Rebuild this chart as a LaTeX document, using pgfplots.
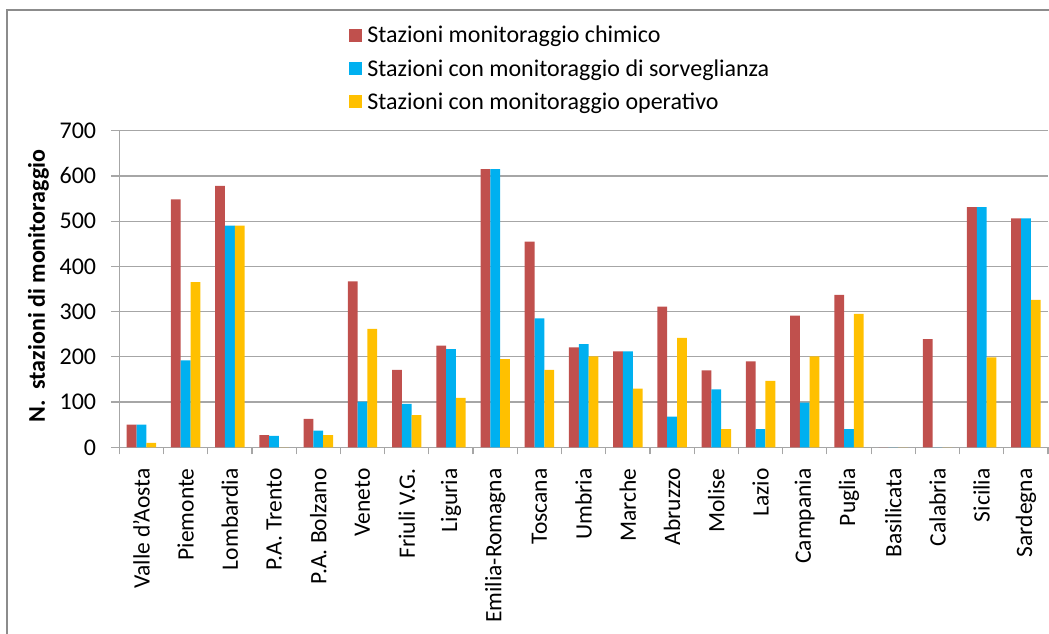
\documentclass[border=0pt]{standalone}
\usepackage{pgfplots}
\pgfplotsset{compat=1.18}
\usepackage{fontspec}
\setmainfont{Carlito}
\definecolor{cred}{HTML}{C0504D}
\definecolor{cblue}{HTML}{00B0F0}
\definecolor{cyel}{HTML}{FFC000}
\definecolor{gridc}{HTML}{A6A6A6}
\definecolor{framec}{HTML}{8C8C8C}
\begin{document}
\begin{tikzpicture}
\useasboundingbox (0,0) rectangle (1049pt,634pt);
\draw[framec, line width=1.3pt] (7pt,0) -- (7pt,624pt) -- (1049pt,624pt);
\begin{axis}[
  at={(119.3pt,186.7pt)}, anchor=south west,
  scale only axis, width=928.7pt, height=316.6pt,
  ybar=0pt, bar width=9.8pt,
  xmin=-0.5, xmax=20.5, ymin=0, ymax=700,
  axis x line*=bottom, axis y line*=left,
  axis line style={gridc, line width=1.2pt, -},
  ytick={0,100,...,700},
  ymajorgrids, grid style={gridc, line width=1.2pt},
  tick align=outside,
  y tick style={gridc, line width=1.2pt},
  major tick length=8pt,
  xtick={0,...,20},
  x tick style={draw=none},
  xticklabels={Valle d'Aosta,Piemonte,Lombardia,P.A. Trento,P.A. Bolzano,Veneto,Friuli V.G.,Liguria,Emilia-Romagna,Toscana,Umbria,Marche,Abruzzo,Molise,Lazio,Campania,Puglia,Basilicata,Calabria,Sicilia,Sardegna},
  extra x ticks={-0.5,0.5,...,20.5},
  extra x tick labels={},
  extra x tick style={x tick style={draw=gridc, line width=1.2pt}, major tick length=7pt},
  xticklabel style={rotate=90, anchor=east, inner sep=0pt, font=\fontsize{23.5}{28}\selectfont},
  yticklabel style={anchor=east, inner sep=0pt, font=\fontsize{24}{29}\selectfont},
  xticklabel shift=13pt,
  yticklabel shift=15pt,
  /pgf/number format/assume math mode=true,
  ylabel={N.\ \ stazioni di monitoraggio},
  ylabel style={at={(axis description cs:-0.087,0.509)}, anchor=center, font=\bfseries\fontsize{24}{29}\selectfont},
  legend style={at={(axis description cs:0.2475,1.337)}, anchor=north west, draw=none, fill=none,
    font=\fontsize{24}{29}\selectfont, row sep=11pt, inner sep=0pt,
    /tikz/every odd column/.append style={column sep=3pt}},
  legend cell align=left,
  legend image code/.code={\fill[#1] (0pt,-6.5pt) rectangle (13pt,6.5pt);},
]
\addplot[fill=cred, draw=none] coordinates {(0,50) (1,548) (2,578) (3,27) (4,63) (5,367) (6,171) (7,225) (8,615) (9,455) (10,221) (11,212) (12,311) (13,170) (14,190) (15,291) (16,337) (17,0) (18,239) (19,531) (20,506)};
\addplot[fill=cblue, draw=none] coordinates {(0,50) (1,192) (2,490) (3,25) (4,37) (5,101) (6,96) (7,217) (8,615) (9,285) (10,228) (11,212) (12,68) (13,128) (14,40) (15,99) (16,40) (17,0) (18,0) (19,531) (20,506)};
\addplot[fill=cyel, draw=none] coordinates {(0,10) (1,365) (2,490) (3,0) (4,27) (5,262) (6,71) (7,109) (8,195) (9,171) (10,201) (11,130) (12,242) (13,40) (14,147) (15,201) (16,295) (17,0) (18,0) (19,199) (20,326)};
\legend{Stazioni monitoraggio chimico,Stazioni con monitoraggio di sorveglianza,Stazioni con monitoraggio operativo}
\end{axis}
\end{tikzpicture}
\end{document}
